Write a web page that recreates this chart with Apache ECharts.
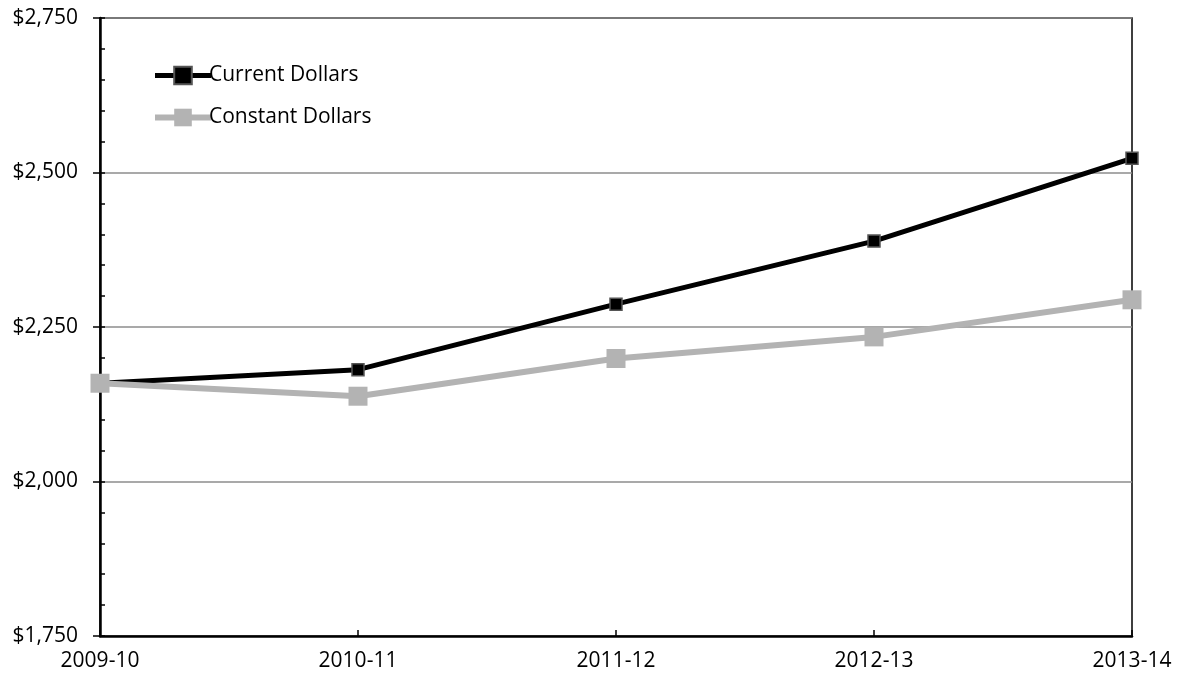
<!DOCTYPE html>
<html lang="en">
  <head>
    <meta charset="UTF-8" />
    <title>Current vs Constant Dollars</title>
    <script src="https://cdn.jsdelivr.net/npm/echarts@6/dist/echarts.min.js"></script>
    <style>
      html, body { margin: 0; padding: 0; background: #fff; }
    </style>
  </head>

  <body>
    <div id="main" style="width: 1181px; height: 684px"></div>

    <script type="text/javascript">
      // data
      var years = ["2009-10", "2010-11", "2011-12", "2012-13", "2013-14"];
      var currentDollars = [2159, 2181, 2287, 2389, 2523];
      var constantDollars = [2159, 2138, 2199, 2234, 2294];
      var yMin = 1750;
      var yMax = 2750;
      var yStep = 250;

      var font = "'Open Sans', Lato, sans-serif";

      var myChart = echarts.init(document.getElementById("main"));

      function money(v) {
        return "$" + v.toLocaleString("en-US");
      }

      var option = {
        animation: false,
        textStyle: { fontFamily: font },
        grid: {
          left: 100,
          right: 49,
          top: 18,
          bottom: 48,
          show: true,
          borderColor: "#000",
          borderWidth: 1.5,
        },
        legend: {
          orient: "vertical",
          left: 147,
          top: 60,
          itemGap: 21,
          itemWidth: 56,
          itemHeight: 22,
          textStyle: { fontSize: 21, color: "#000", fontFamily: font, padding: [0, 0, 0, -7] },
          data: [
            { name: "Current Dollars", lineStyle: { width: 5, color: "#000" } },
            { name: "Constant Dollars", lineStyle: { width: 6, color: "#b3b3b3" } },
          ],
        },
        xAxis: {
          type: "category",
          data: years,
          boundaryGap: false,
          axisLine: { lineStyle: { color: "#000", width: 2.5 } },
          axisTick: { inside: true, length: 6, lineStyle: { color: "#000", width: 1.5 } },
          axisLabel: { color: "#000", fontSize: 21, margin: 15, fontFamily: font },
          splitLine: { show: false },
        },
        yAxis: [
          {
            type: "value",
            min: yMin,
            max: yMax,
            interval: yStep,
            axisLine: { show: true, lineStyle: { color: "#000", width: 2.5 } },
            axisTick: { show: true, length: 7, lineStyle: { color: "#000", width: 1.5 } },
            axisLabel: { color: "#000", fontSize: 21, margin: 22, fontFamily: font, formatter: money },
            splitLine: { show: true, lineStyle: { color: "#8c8c8c", width: 1.5 } },
          },
          {
            // inner minor ticks every 50
            type: "value",
            position: "left",
            min: yMin,
            max: yMax,
            interval: 50,
            axisLine: { show: false },
            axisTick: { show: true, inside: true, length: 5, lineStyle: { color: "#000", width: 1.5 } },
            axisLabel: { show: false },
            splitLine: { show: false },
          },
        ],
        series: [
          {
            name: "Current Dollars",
            type: "line",
            data: currentDollars,
            symbol: "rect",
            symbolSize: 12,
            lineStyle: { color: "#000", width: 5 },
            itemStyle: { color: "#000", borderColor: "#555", borderWidth: 1.5 },
            z: 2,
          },
          {
            name: "Constant Dollars",
            type: "line",
            data: constantDollars,
            symbol: "rect",
            symbolSize: 19,
            lineStyle: { color: "#b3b3b3", width: 6 },
            itemStyle: { color: "#b3b3b3", borderColor: "#b3b3b3", borderWidth: 0 },
            z: 3,
          },
        ],
      };

      myChart.setOption(option);
    </script>
  </body>
</html>
